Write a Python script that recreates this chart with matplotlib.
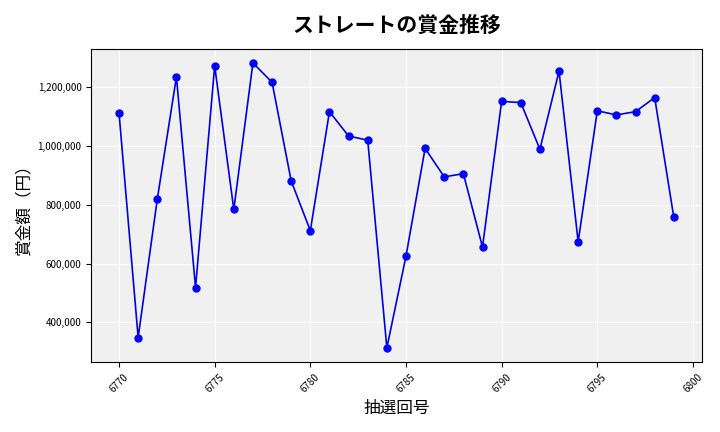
import matplotlib
matplotlib.use('Agg')
import matplotlib.pyplot as plt
from matplotlib.ticker import FuncFormatter

plt.rcParams['font.family'] = ['Noto Sans CJK JP', 'DejaVu Sans']

draws = list(range(6770, 6800))
prizes = [1113000, 348000, 819000, 1235000, 518000, 1273000, 784000, 1283000,
          1217000, 881000, 712000, 1117000, 1034000, 1020000, 313000, 625000,
          992000, 895000, 906000, 656000, 1152000, 1148000, 989000, 1255000,
          674000, 1120000, 1106000, 1117000, 1165000, 757000]

fig, ax = plt.subplots(figsize=(7.2, 4.32), dpi=100)
ax.set_facecolor('#f0f0f0')
ax.grid(True, color='white', linewidth=0.8)
ax.set_axisbelow(True)
ax.plot(draws, prizes, color='#0000dd', marker='o', markersize=5, linewidth=1.2,
        markerfacecolor='blue', markeredgecolor='blue')
ax.set_title('ストレートの賞金推移', fontsize=15, fontweight='bold', pad=12)
ax.set_xlabel('抽選回号', fontsize=12)
ax.set_ylabel('賞金額（円）', fontsize=12)
ax.yaxis.set_major_formatter(FuncFormatter(lambda v, p: f'{int(v):,}'))
ax.tick_params(axis='x', labelrotation=45, labelsize=7)
ax.tick_params(axis='y', labelsize=7)
ax.set_xticks(range(6770, 6801, 5))
fig.tight_layout()
fig.savefig('out.png', dpi=100)
